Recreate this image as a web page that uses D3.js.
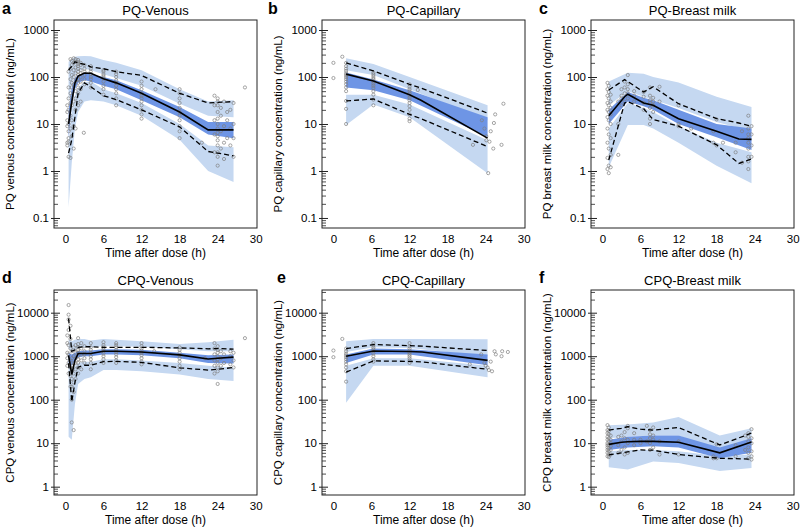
<!DOCTYPE html>
<html>
<head>
<meta charset="utf-8">
<title>PQ / CPQ visual predictive checks</title>
<script src="https://cdnjs.cloudflare.com/ajax/libs/d3/7.8.5/d3.min.js"></script>
<style>
body { margin:0; background:#fff; }
svg { display:block; font-family:"Liberation Sans", Arial, sans-serif; }
.tick text { font-size:11.5px; fill:#000; }
</style>
</head>
<body>
<div id="chart"></div>
<script>
// ---- panel a: PQ venous
var timeA   = [0.5, 1, 1.5, 2, 3, 4, 6, 8, 12, 18, 22.5, 26.5];
var p95hiA  = [210, 240, 270, 275, 280, 275, 230, 200, 140, 55, 30, 32];
var p95loA  = [30, 70, 110, 130, 150, 140, 115, 95, 65, 27, 15, 14];
var p50hiA  = [20, 60, 95, 110, 120, 115, 100, 85, 52, 23, 11, 11];
var p50loA  = [5, 25, 55, 75, 85, 80, 65, 55, 32, 14, 6, 5];
var p5hiA   = [4, 20, 40, 60, 78, 80, 55, 45, 28, 10, 3.5, 3.2];
var p5loA   = [0.17, 1.5, 8, 18, 30, 32, 30, 25, 15, 4.6, 1, 0.58];
var obs95A  = [140, 170, 210, 200, 185, 165, 150, 130, 108, 45, 28, 30];
var obs50A  = [10, 30, 75, 105, 122, 120, 92, 75, 45, 18, 7.5, 7.5];
var obs5A   = [2.4, 4.6, 14, 45, 75, 62, 40, 33, 20, 8.7, 2.6, 2.1];
var pointsA = [
  [0.3, [18, 9, 4, 3.5, 12, 25]],
  [0.5, [2, 5, 10, 35, 60, 130, 4.2, 7, 20]],
  [0.8, [1.9, 8, 45, 90, 150, 240, 15, 28]],
  [1.0, [5.5, 12, 25, 60, 110, 180, 220, 40, 75]],
  [1.3, [9, 30, 70, 100, 140, 200, 250, 3]],
  [1.6, [20, 50, 85, 120, 160, 210, 240, 8, 35]],
  [2.0, [25, 60, 90, 110, 130, 150, 170, 190, 210, 230, 75, 45]],
  [2.4, [30, 55, 80, 100, 120, 140, 180, 200]],
  [2.9, [6.5]],
  [3.0, [70, 90, 110, 130, 150, 180]],
  [4.0, [60, 75, 90, 100, 115, 130, 150, 170]],
  [6.0, [42, 55, 65, 80, 95, 105, 115, 130, 140]],
  [8.0, [25, 35, 45, 55, 65, 75, 85, 100, 115, 130]],
  [12.0, [13, 16, 20, 25, 30, 35, 40, 45, 55, 65, 80]],
  [14.2, [55]],
  [18.0, [5, 7, 9, 12, 15, 18, 22, 28, 35, 45, 55]],
  [21.5, [4]],
  [23.5, [2.5, 6, 12, 25, 40]],
  [24.0, [1.3, 2, 2.5, 3.5, 4.5, 5.5, 6.5, 8, 10, 13, 18, 25, 30, 35]],
  [24.5, [3, 7, 15, 22]],
  [25.0, [1.8, 4, 9, 30]],
  [25.5, [5, 12, 18]],
  [26.0, [3.5, 8, 20]],
  [26.5, [2, 5, 10, 28]],
  [28.3, [60]]
];

// ---- panel b: PQ capillary
var timeB   = [2, 6.3, 12, 24.3];
var p95hiB  = [250, 190, 100, 25];
var p95loB  = [140, 110, 55, 12];
var p50hiB  = [125, 88, 52, 14];
var p50loB  = [60, 52, 32, 5.3];
var p5hiB   = [42, 42, 26, 4.5];
var p5loB   = [9.5, 26, 14, 0.9];
var obsTimeB = [2, 6.3, 12, 13.8, 24.3];
var obs95B  = [200, 135, 70, 58, 17];
var obs50B  = [115, 82, 42, 32, 5];
var obs5B   = [31, 34, 16, 13, 3.3];
var pointsB = [
  [0.0, [200, 95]],
  [1.4, [270]],
  [2.0, [10, 21, 31, 50, 60, 70, 80, 90, 100, 110, 120, 135, 150, 170, 200]],
  [6.3, [25, 33, 42, 50, 58, 65, 72, 80, 88, 95, 105, 115, 125]],
  [12.0, [11.5, 13, 16, 20, 24, 28, 32, 36, 40, 45, 50, 55, 62, 70]],
  [13.3, [53]],
  [22.0, [3.6]],
  [23.4, [12]],
  [23.8, [8]],
  [24.1, [5.5, 4.5]],
  [24.4, [0.9]],
  [24.6, [4.2]],
  [24.8, [7]],
  [25.2, [3]],
  [25.3, [10.5]],
  [25.5, [16]],
  [26.5, [3.6]],
  [26.8, [27]]
];

// ---- panel c: PQ breast milk
var timeC   = [1, 4, 6.5, 8, 12, 18, 23.5];
var p95hiC  = [80, 123, 117, 100, 76, 38, 23];
var p95loC  = [25, 50, 38, 33, 22, 11, 7];
var p50hiC  = [20, 48, 36, 32, 20, 10, 8];
var p50loC  = [10, 30, 24, 20, 10, 5.2, 2.8];
var p5hiC   = [8, 28, 22, 18, 9, 4, 2.5];
var p5loC   = [1.2, 9.5, 9.5, 8, 4, 1.3, 0.55];
var obsTimeC = [1, 3.5, 4, 6.5, 8, 12, 18, 21.5, 23.5];
var obs95C  = [53, 88, 80, 48, 62, 27, 13, 10.5, 9];
var obs50C  = [15, 38, 43, 28, 25, 13, 7, 4.8, 4.7];
var obs5C   = [1.7, 28, 30, 21, 12.4, 9, 3.6, 1.45, 1.8];
var pointsC = [
  [0.8, [1.1, 1.9, 4, 8, 14, 20, 28, 40, 55, 75]],
  [1.0, [0.9, 1.3, 3, 6, 12, 18, 25, 35, 48, 65]],
  [1.3, [1.2, 2.2, 5, 10, 16, 22, 30, 42]],
  [2.5, [10, 30, 2.2]],
  [3.0, [25, 40, 55, 35]],
  [3.5, [30, 45, 60, 80]],
  [4.0, [35, 45, 55, 70, 110]],
  [5.0, [40, 50, 30]],
  [6.5, [20, 28, 38, 48]],
  [7.5, [10, 13, 22, 28, 32, 40, 60]],
  [8.0, [18, 25, 30, 36]],
  [9.0, [30, 62]],
  [12.0, [9, 10, 25]],
  [14.0, [8]],
  [17.5, [4, 7]],
  [18.0, [3.5, 12.5]],
  [19.0, [4]],
  [21.0, [2.5, 4]],
  [22.0, [1.5, 7]],
  [23.0, [1.1, 1.6, 2, 3, 4, 5, 6, 8, 15]],
  [23.5, [2, 3.5, 6, 9]]
];

// ---- panel d: CPQ venous
var timeD   = [0.5, 1, 1.5, 2, 3, 4, 6, 8, 12, 18, 22.5, 26.5];
var p95hiD  = [2400, 2200, 2400, 2500, 2500, 2300, 2500, 2400, 2200, 1900, 2100, 2400];
var p95loD  = [1500, 1300, 1400, 1500, 1600, 1600, 1700, 1700, 1650, 1450, 1300, 1300];
var p50hiD  = [1200, 1100, 1200, 1300, 1350, 1350, 1450, 1450, 1400, 1200, 1050, 1100];
var p50loD  = [700, 600, 800, 950, 1000, 1000, 1100, 1100, 1050, 900, 700, 680];
var p5hiD   = [600, 500, 600, 700, 750, 750, 850, 850, 800, 700, 600, 550];
var p5loD   = [14, 12, 80, 230, 300, 330, 480, 480, 450, 380, 300, 270];
var obsTimeD = [0.5, 1, 1.5, 2, 3, 4, 6, 8, 12, 18, 22.5, 24, 26.5];
var obs95D  = [7400, 1300, 1400, 1600, 1650, 1650, 1600, 1600, 1600, 1550, 1480, 1500, 1450];
var obs50D  = [1050, 380, 800, 1150, 1150, 1150, 1300, 1300, 1250, 1070, 860, 900, 950];
var obs5D   = [690, 90, 250, 560, 620, 620, 750, 760, 720, 540, 480, 500, 550];
var pointsD = [
  [0.3, [600, 900, 1200, 2000, 3000]],
  [0.5, [400, 700, 1100, 1800, 4000, 7000, 9000, 15000]],
  [0.8, [200, 350, 550, 800, 1500, 2500, 5000]],
  [1.0, [30, 100, 200, 300, 450, 600, 900, 1300]],
  [1.3, [20, 150, 250, 400, 700, 1000, 1600]],
  [1.6, [300, 500, 700, 900, 1200, 1800]],
  [2.0, [400, 550, 700, 850, 1000, 1200, 1400, 1600, 1900, 2600]],
  [2.5, [500, 800, 1100, 1500, 2000]],
  [3.0, [700, 900, 1100, 1300, 1700]],
  [4.0, [500, 700, 850, 1000, 1200, 1400, 1600, 2000]],
  [6.0, [700, 850, 1000, 1150, 1300, 1450, 1600, 1800, 2100]],
  [8.0, [700, 800, 950, 1100, 1250, 1400, 1600, 1800, 2000]],
  [12.0, [650, 750, 900, 1050, 1200, 1350, 1500, 1700, 2000]],
  [14.0, [1300]],
  [18.0, [500, 600, 750, 900, 1050, 1200, 1400, 1600]],
  [22.0, [900]],
  [23.5, [400, 600, 800, 1100, 1500, 2000]],
  [24.0, [230, 450, 550, 700, 850, 1000, 1200, 1400, 1700]],
  [24.5, [600, 900, 1300]],
  [25.0, [700, 1100]],
  [26.0, [650, 1000, 1300]],
  [26.5, [550, 800, 1200]],
  [28.3, [2600]]
];

// ---- panel e: CPQ capillary
var timeE   = [2, 6.3, 12, 24.3];
var p95hiE  = [2200, 2500, 2500, 2450];
var p95loE  = [1250, 1600, 1550, 1000];
var p50hiE  = [1100, 1500, 1450, 1100];
var p50loE  = [700, 1100, 1100, 620];
var p5hiE   = [600, 900, 900, 600];
var p5loE   = [85, 600, 600, 330];
var obsTimeE = [2, 6.3, 12, 14, 24.3];
var obs95E  = [1500, 1850, 1750, 1700, 1350];
var obs50E  = [1000, 1320, 1280, 1250, 800];
var obs5E   = [430, 780, 760, 740, 500];
var pointsE = [
  [0.0, [1350, 950]],
  [1.4, [2500]],
  [2.0, [260, 450, 550, 650, 750, 850, 950, 1050, 1150, 1300, 1500]],
  [6.3, [750, 850, 1000, 1150, 1300, 1450, 1600, 1800, 2000]],
  [12.0, [700, 800, 900, 1000, 1100, 1200, 1350, 1500, 1700, 2000]],
  [21.5, [650]],
  [23.3, [1100]],
  [23.8, [700]],
  [24.0, [600]],
  [24.3, [550]],
  [24.5, [480]],
  [24.8, [750]],
  [25.0, [450]],
  [25.4, [1300]],
  [25.6, [1100]],
  [26.5, [1000]],
  [26.6, [1300]],
  [27.5, [1250]]
];

// ---- panel f: CPQ breast milk
var timeF   = [1, 4, 8, 12, 18.5, 23.5];
var p95hiF  = [26, 27, 30, 40, 15, 22];
var p95loF  = [13, 14, 15, 15, 6.5, 9];
var p50hiF  = [12, 14, 15, 15, 8, 13];
var p50loF  = [7, 8, 8.5, 8, 4.5, 6];
var p5hiF   = [6.5, 7, 7, 6.5, 5, 5.5];
var p5loF   = [2.8, 2.5, 3.8, 3.5, 2.3, 2.7];
var obsTimeF = [1, 3, 4, 6, 8, 12, 18.5, 23.5];
var obs95F  = [20, 22, 24, 21, 20, 23, 9.1, 17];
var obs50F  = [9.4, 10.5, 10.8, 11, 11, 10.5, 6, 10.6];
var obs5F   = [5.4, 6, 6.3, 7, 6.9, 5.5, 4.5, 4.3];
var pointsF = [
  [0.8, [5, 6, 7, 8, 9, 10, 12, 14, 17, 20, 26]],
  [1.0, [4.8, 5.5, 6.5, 7.5, 9, 11, 13, 16, 19, 23]],
  [1.3, [5.5, 7, 8.5, 10, 12, 15]],
  [2.5, [6, 9, 14]],
  [3.0, [7, 11, 15]],
  [3.5, [5.5, 8, 13, 18]],
  [4.0, [6, 10, 12, 22, 25]],
  [5.0, [9, 12, 17]],
  [6.0, [10, 12]],
  [7.0, [11, 25]],
  [7.5, [7, 10, 13, 16, 20]],
  [8.0, [8, 12, 15, 23]],
  [9.0, [5.5, 11]],
  [12.0, [5.5, 11]],
  [17.5, [4.5, 5]],
  [18.0, [4.5, 9.5]],
  [21.0, [5, 9]],
  [22.5, [7, 15]],
  [23.0, [4.5, 6, 8, 11, 14, 17]],
  [23.5, [4.2, 5, 6.5, 10, 13, 21]]
];

var xTicks = [0, 6, 12, 18, 24, 30];
var yTicksTop = [0.1, 1, 10, 100, 1000];
var yTicksBottom = [1, 10, 100, 1000, 10000];

var panels = [
  {letter:'a', title:'PQ-Venous', ylab:'PQ venous concentration (ng/mL)', col:0, row:0,
   t:timeA, p95:[p95loA,p95hiA], p50:[p50loA,p50hiA], p5:[p5loA,p5hiA],
   ot:timeA, o95:obs95A, o50:obs50A, o5:obs5A, pts:pointsA},
  {letter:'b', title:'PQ-Capillary', ylab:'PQ capillary concentration (ng/mL)', col:1, row:0,
   t:timeB, p95:[p95loB,p95hiB], p50:[p50loB,p50hiB], p5:[p5loB,p5hiB],
   ot:obsTimeB, o95:obs95B, o50:obs50B, o5:obs5B, pts:pointsB},
  {letter:'c', title:'PQ-Breast milk', ylab:'PQ breast milk concentration (ng/mL)', col:2, row:0,
   t:timeC, p95:[p95loC,p95hiC], p50:[p50loC,p50hiC], p5:[p5loC,p5hiC],
   ot:obsTimeC, o95:obs95C, o50:obs50C, o5:obs5C, pts:pointsC},
  {letter:'d', title:'CPQ-Venous', ylab:'CPQ venous concentration (ng/mL)', col:0, row:1,
   t:timeD, p95:[p95loD,p95hiD], p50:[p50loD,p50hiD], p5:[p5loD,p5hiD],
   ot:obsTimeD, o95:obs95D, o50:obs50D, o5:obs5D, pts:pointsD},
  {letter:'e', title:'CPQ-Capillary', ylab:'CPQ capillary concentration (ng/mL)', col:1, row:1,
   t:timeE, p95:[p95loE,p95hiE], p50:[p50loE,p50hiE], p5:[p5loE,p5hiE],
   ot:obsTimeE, o95:obs95E, o50:obs50E, o5:obs5E, pts:pointsE},
  {letter:'f', title:'CPQ-Breast milk', ylab:'CPQ breast milk concentration (ng/mL)', col:2, row:1,
   t:timeF, p95:[p95loF,p95hiF], p50:[p50loF,p50hiF], p5:[p5loF,p5hiF],
   ot:obsTimeF, o95:obs95F, o50:obs50F, o5:obs5F, pts:pointsF}
];

// layout
var colLeft = [54, 322, 591];
var letterX = [2, 268, 539];
var boxW = 203;
var rows = [
  {top:20, bottom:228, domain:[0.0612, 1633], majors:yTicksTop},
  {top:290, bottom:495, domain:[0.644, 33260], majors:yTicksBottom}
];
var lightBlue = '#c5d8f1';
var darkBlue = '#6e95e5';

var svg = d3.select('#chart').append('svg')
  .attr('width', 800)
  .attr('height', 529);

function minorTicks(domain) {
  var out = [];
  var e0 = Math.floor(Math.log10(domain[0])), e1 = Math.ceil(Math.log10(domain[1]));
  for (var e = e0; e <= e1; e++) {
    for (var m = 2; m <= 9; m++) {
      var v = m * Math.pow(10, e);
      if (v >= domain[0] && v <= domain[1]) out.push(v);
    }
  }
  return out;
}

panels.forEach(function(p, idx) {
  var r = rows[p.row];
  var h = r.bottom - r.top;
  var g = svg.append('g').attr('transform', 'translate(' + colLeft[p.col] + ',' + r.top + ')');

  var x = d3.scaleLinear().domain([-1.8, 30.2]).range([0, boxW]);
  var y = d3.scaleLog().domain(r.domain).range([h, 0]);

  g.append('clipPath').attr('id', 'clip' + idx)
    .append('rect').attr('width', boxW).attr('height', h);
  var plot = g.append('g').attr('clip-path', 'url(#clip' + idx + ')');

  // simulated confidence bands
  function band(lohi, color) {
    var rowsData = p.t.map(function(t, i) { return {t:t, lo:lohi[0][i], hi:lohi[1][i]}; });
    plot.append('path')
      .datum(rowsData)
      .attr('fill', color)
      .attr('d', d3.area()
        .x(function(d) { return x(d.t); })
        .y0(function(d) { return y(d.lo); })
        .y1(function(d) { return y(d.hi); }));
  }
  band(p.p95, lightBlue);
  band(p.p5, lightBlue);
  band(p.p50, darkBlue);

  // observations
  var pts = [];
  p.pts.forEach(function(grp) {
    grp[1].forEach(function(v) { pts.push({t:grp[0], v:v}); });
  });
  plot.selectAll('circle.obs').data(pts).enter().append('circle')
    .attr('class', 'obs')
    .attr('cx', function(d) { return x(d.t); })
    .attr('cy', function(d) { return y(d.v); })
    .attr('r', 1.6)
    .attr('fill', 'none')
    .attr('stroke', '#808080')
    .attr('stroke-width', 0.7);

  // observed percentiles
  function obsLine(vals, dashed) {
    var line = d3.line()
      .x(function(d, i) { return x(p.ot[i]); })
      .y(function(d) { return y(d); });
    plot.append('path')
      .datum(vals)
      .attr('fill', 'none')
      .attr('stroke', '#000')
      .attr('stroke-width', dashed ? 1.3 : 1.6)
      .attr('stroke-dasharray', dashed ? '5,3' : null)
      .attr('d', line);
  }
  obsLine(p.o95, true);
  obsLine(p.o5, true);
  obsLine(p.o50, false);

  // y axis: majors cross the frame, minors point inward
  var yAx = g.append('g').call(d3.axisLeft(y)
    .tickValues(r.majors).tickSize(3).tickPadding(2).tickSizeOuter(0)
    .tickFormat(function(d) { return String(d); }));
  yAx.select('.domain').remove();
  yAx.selectAll('.tick line').attr('x1', 6).attr('stroke', '#222');

  var yMin = g.append('g').call(d3.axisLeft(y)
    .tickValues(minorTicks(r.domain)).tickSize(-4).tickFormat(''));
  yMin.select('.domain').remove();
  yMin.selectAll('.tick line').attr('stroke', '#222').attr('stroke-width', 0.8);

  // x axis labels only
  var xAx = g.append('g').attr('transform', 'translate(0,' + h + ')')
    .call(d3.axisBottom(x).tickValues(xTicks).tickSize(0).tickPadding(7));
  xAx.select('.domain').remove();

  // frame
  g.append('rect')
    .attr('width', boxW).attr('height', h)
    .attr('fill', 'none').attr('stroke', '#222').attr('stroke-width', 1);

  // titles
  g.append('text')
    .attr('x', boxW / 2).attr('y', -5)
    .attr('text-anchor', 'middle')
    .style('font-size', '13px')
    .text(p.title);

  g.append('text')
    .attr('x', boxW / 2).attr('y', h + 29)
    .attr('text-anchor', 'middle')
    .style('font-size', '12px')
    .text('Time after dose (h)');

  g.append('text')
    .attr('transform', 'translate(' + (-40) + ',' + (h / 2) + ') rotate(-90)')
    .attr('text-anchor', 'middle')
    .style('font-size', '11.5px')
    .text(p.ylab);

  svg.append('text')
    .attr('x', letterX[p.col] + (p.row === 1 && p.col === 1 ? 9 : 0))
    .attr('y', p.row === 0 ? 14 : 283)
    .style('font-size', '16px')
    .style('font-weight', 'bold')
    .text(p.letter);
});
</script>
</body>
</html>
